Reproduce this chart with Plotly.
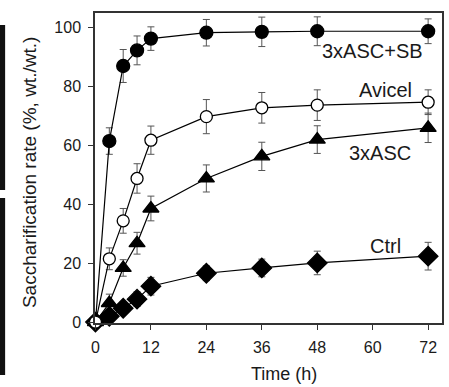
import plotly.graph_objects as go

time_h = [0, 3, 6, 9, 12, 24, 36, 48, 72]

asc_sb = [0, 61.5, 87, 92.3, 96.3, 98.3, 98.6, 98.8, 98.8]
asc_sb_err = [0, 4.5, 5.6, 4.9, 4.0, 4.5, 5.0, 4.9, 4.2]

avicel = [0, 21.5, 34.4, 48.8, 61.8, 69.8, 72.8, 73.7, 74.7]
avicel_err = [0, 3.7, 4.2, 5.0, 4.8, 5.8, 5.2, 5.2, 4.2]

asc3 = [0, 6.5, 18.4, 26.8, 38.6, 48.8, 56.3, 62.0, 66.0]
asc3_err = [0, 3.0, 2.8, 3.7, 4.2, 4.6, 4.8, 4.7, 5.0]

ctrl = [0, 2.0, 4.7, 7.8, 12.2, 16.6, 18.4, 20.1, 22.4]
ctrl_err = [0, 1.0, 1.5, 2.5, 3.0, 2.5, 3.0, 4.0, 4.7]

labels = ["3xASC+SB", "Avicel", "3xASC", "Ctrl"]
label_x = [60.0, 62.7, 61.5, 62.7]
label_y = [92.0, 79.0, 57.5, 26.0]

x_ticks = [0, 12, 24, 36, 48, 60, 72]
y_ticks = [0, 20, 40, 60, 80, 100]

x_title = "Time (h)"
y_title = "Saccharification rate (%, wt./wt.)"

FONT = "Liberation Sans, Arial, sans-serif"
ERR_COLOR = "#555555"
TXT = "#1a1a1a"

fig = go.Figure()


def add_series(y, err, symbol, size, fill, name):
    fig.add_trace(go.Scatter(
        x=time_h, y=y, name=name, mode="lines+markers",
        line=dict(color="black", width=1.2),
        marker=dict(symbol=symbol, size=size, color=fill,
                    line=dict(color="black", width=1.3)),
        error_y=dict(type="data", array=err, color=ERR_COLOR,
                     thickness=1, width=3.5),
        cliponaxis=False, showlegend=False,
    ))


add_series(asc_sb, asc_sb_err, "circle", 13, "black", labels[0])
add_series(asc3, asc3_err, "triangle-up", 14, "black", labels[2])
add_series(ctrl, ctrl_err, "diamond", 15, "black", labels[3])
add_series(avicel, avicel_err, "circle", 12, "white", labels[1])

for t, lx, ly in zip(labels, label_x, label_y):
    fig.add_annotation(x=lx, y=ly, text=t, showarrow=False,
                       xanchor="center", yanchor="middle",
                       font=dict(family=FONT, size=20, color=TXT))

# axis titles
fig.add_annotation(xref="paper", yref="paper", x=0.545, y=-0.165,
                   text=x_title, showarrow=False,
                   xanchor="center", yanchor="middle", borderpad=0,
                   font=dict(family=FONT, size=18, color=TXT))
fig.add_annotation(xref="paper", yref="paper", x=-0.187, y=0.484,
                   text=y_title, showarrow=False, textangle=-90,
                   xanchor="center", yanchor="middle",
                   font=dict(family=FONT, size=19, color=TXT))

# black cropping strips at the left edge of the reference picture
fig.add_shape(type="rect", xref="paper", yref="paper",
              x0=-0.274, x1=-0.259, y0=0.429, y1=0.961,
              fillcolor="#111111", line=dict(width=0), layer="above")
fig.add_shape(type="rect", xref="paper", yref="paper",
              x0=-0.274, x1=-0.259, y0=-0.168, y1=0.403,
              fillcolor="#111111", line=dict(width=0), layer="above")

fig.update_xaxes(
    range=[-0.1, 75], tickvals=x_ticks, ticks="outside", ticklen=5,
    tickcolor="#333333", showline=True, linecolor="#333333", linewidth=1.5,
    mirror=True, showgrid=False, zeroline=False, automargin=False,
    ticklabelstandoff=4,
    tickfont=dict(family=FONT, size=16, color=TXT),
)
fig.update_yaxes(
    range=[-0.3, 105], tickvals=y_ticks, ticks="outside", ticklen=5,
    tickcolor="#333333", showline=True, linecolor="#333333", linewidth=1.5,
    mirror=True, showgrid=False, zeroline=False, automargin=False,
    ticklabelstandoff=4,
    tickfont=dict(family=FONT, size=16, color=TXT),
)

fig.update_layout(
    width=449, height=387,
    margin=dict(l=95, r=7, t=13, b=64),
    paper_bgcolor="white", plot_bgcolor="white",
)

fig.write_html(
    "out.html",
    config={"displayModeBar": False},
    post_script="document.body.style.margin='0';"
                "document.body.style.overflow='hidden';",
)
